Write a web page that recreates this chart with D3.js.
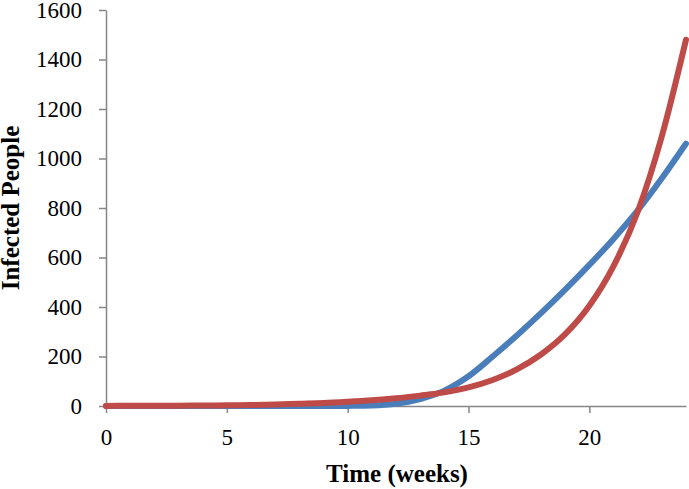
<!DOCTYPE html>
<html>
<head>
<meta charset="utf-8">
<script src="https://cdn.jsdelivr.net/npm/d3@7"></script>
<style>
  body { margin: 0; background: #fff; }
  .axis path, .axis line { stroke: #868686; stroke-width: 1.5; }
  .axis text { font-family: "Liberation Serif", serif; font-size: 23px; fill: #000; }
  .title { font-family: "Liberation Serif", serif; font-size: 25px; font-weight: bold; }
</style>
</head>
<body>
<svg id="chart"></svg>
<script>
var weeks = [0,1,2,3,4,5,6,7,8,9,10,11,12,13,14,15,16,17,18,19,20,21,22,23,24];
var seriesBlue = [0,0,0,0,0,0,0,0,0,0,0.5,2,9,28,62,120,200,285,375,470,570,675,790,920,1060];
var seriesRed = [0.5,0.7,1,1.5,2,3,4,6,9,12,17,23,31,42,55,75,105,148,208,290,405,565,785,1090,1480];
var yTicks = [0,200,400,600,800,1000,1200,1400,1600];
var xTicks = [0,5,10,15,20];

var width = 689, height = 489,
  margin = {top: 10, right: 3, bottom: 83, left: 106};

var svg = d3.select("#chart")
  .attr("width", width)
  .attr("height", height);

var x = d3.scaleLinear().domain([0, 24]).range([margin.left, width - margin.right]);
var y = d3.scaleLinear().domain([0, 1600]).range([height - margin.bottom, margin.top]);

// axes
svg.append("g")
  .attr("class", "axis")
  .attr("transform", "translate(0," + y(0) + ")")
  .call(d3.axisBottom(x).tickValues(xTicks).tickFormat(d3.format("d"))
    .tickSize(7).tickSizeOuter(0).tickPadding(16));

svg.append("g")
  .attr("class", "axis")
  .attr("transform", "translate(" + x(0) + ",0)")
  .call(d3.axisLeft(y).tickValues(yTicks).tickFormat(d3.format("d"))
    .tickSize(7).tickSizeOuter(0).tickPadding(17));

var line = d3.line()
  .x(function(d, i) { return x(weeks[i]); })
  .y(function(d) { return y(d); })
  .curve(d3.curveMonotoneX);

svg.append("path")
  .datum(seriesBlue)
  .attr("fill", "none")
  .attr("stroke", "#4A7EBB")
  .attr("stroke-width", 6)
  .attr("stroke-linecap", "round")
  .attr("d", line);

svg.append("path")
  .datum(seriesRed)
  .attr("fill", "none")
  .attr("stroke", "#BE4B48")
  .attr("stroke-width", 6)
  .attr("stroke-linecap", "round")
  .attr("d", line);

// titles
svg.append("text")
  .attr("class", "title")
  .attr("x", 397)
  .attr("y", 482)
  .attr("text-anchor", "middle")
  .text("Time (weeks)");

svg.append("text")
  .attr("class", "title")
  .attr("transform", "translate(19,208) rotate(-90)")
  .attr("text-anchor", "middle")
  .text("Infected People");
</script>
</body>
</html>
